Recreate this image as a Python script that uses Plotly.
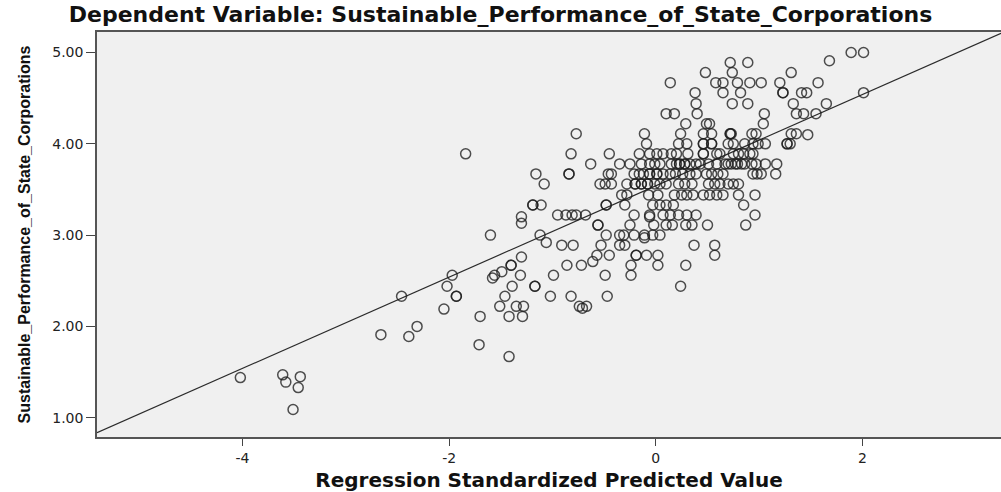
import plotly.graph_objects as go

pred_std = [
    1.89, 2.01,
    1.68,
    0.72, 0.89,
    0.48, 0.74, 1.31,
    0.14, 0.58, 0.65, 0.79, 0.91, 1.02, 1.20, 1.57,
    0.38, 0.65, 0.82, 1.23, 1.23, 1.41, 1.46, 2.01,
    0.39, 0.74, 0.89, 1.33, 1.65,
    0.10, 0.18, 0.40, 1.05, 1.36, 1.43, 1.55,
    0.29, 0.49, 0.52, 1.04,
    -0.77, -0.11, 0.24, 0.46, 0.54, 0.72, 0.72, 0.73, 0.93, 0.97, 1.31, 1.36,
    1.47,
    -0.09, 0.22, 0.30, 0.46, 0.46, 0.54, 0.54, 0.70, 0.75, 0.86, 0.94, 0.99, 1.06, 1.27, 1.27, 1.30,
    -1.84, -0.82, -0.45, -0.16, -0.06, 0.01, 0.07, 0.15, 0.20, 0.31, 0.46, 0.46, 0.59, 0.62, 0.75, 0.80, 0.85, 0.91, 0.94,
    -0.63, -0.35, -0.25, -0.14, -0.06, -0.01, 0.04, 0.15, 0.20, 0.23, 0.23, 0.28, 0.28, 0.33, 0.39, 0.43, 0.51, 0.59, 0.67, 0.70, 0.73, 0.77, 0.79, 0.83, 0.86, 0.93, 0.97, 1.06, 1.17,
    -1.16, -0.84, -0.84, -0.46, -0.43, -0.21, -0.16, -0.12, -0.06, -0.06, 0.01, 0.01, 0.07, 0.14, 0.19, 0.26, 0.33, 0.39, 0.49, 0.54, 0.60, 0.65, 0.94, 0.98, 1.02, 1.16,
    -1.08, -0.54, -0.49, -0.43, -0.28, -0.20, -0.20, -0.14, -0.14, -0.08, -0.08, -0.01, 0.04, 0.10, 0.22, 0.28, 0.35, 0.51, 0.57, 0.62, 0.70, 0.75, 0.80,
    -0.33, -0.28, -0.07, 0.02, 0.18, 0.25, 0.30, 0.36, 0.46, 0.52, 0.59, 0.65, 0.80, 0.96,
    -1.19, -1.19, -1.11, -0.48, -0.48, -0.30, -0.03, 0.04, 0.10, 0.17, 0.85,
    -0.95, -0.87, -0.81, -0.77, -0.68, -0.21, -0.06, 0.07, 0.14, 0.22, 0.30, 0.39, 0.96,
    -1.30, -0.06,
    -1.30,
    -0.56, -0.56, -0.25, -0.02, 0.10, 0.16, 0.29, 0.35, 0.50, 0.87,
    -1.60, -1.12, -0.48, -0.35, -0.31, -0.21, -0.11, -0.03, 0.04,
    -0.11,
    -1.06,
    -0.91, -0.80, -0.53, -0.35, -0.30, 0.37, 0.57,
    -0.57, -0.45, -0.19, -0.19, -0.09, 0.02, 0.57,
    -1.30,
    -0.61,
    -1.40, -1.40, -0.86, -0.72, -0.24, 0.02, 0.29,
    -1.49,
    -1.97, -1.56, -1.31, -0.99, -0.49, -0.24,
    -1.58,
    -2.02, -1.39, -1.17, -1.17, 0.24,
    -2.46, -1.93, -1.93, -1.46, -1.02, -0.82, -0.47,
    -1.51, -1.35, -1.28, -0.74, -0.67,
    -0.71,
    -2.05,
    -1.70, -1.42, -1.29,
    -2.31,
    -2.66,
    -2.39,
    -1.71,
    -1.42,
    -3.61, -3.44, -4.02, -3.58, -3.46, -3.51,
]

performance = [
    5.00, 5.00,
    4.91,
    4.89, 4.89,
    4.78, 4.78, 4.78,
    4.67, 4.67, 4.67, 4.67, 4.67, 4.67, 4.67, 4.67,
    4.56, 4.56, 4.56, 4.56, 4.56, 4.56, 4.56, 4.56,
    4.44, 4.44, 4.44, 4.44, 4.44,
    4.33, 4.33, 4.33, 4.33, 4.33, 4.33, 4.33,
    4.22, 4.22, 4.22, 4.22,
    4.11, 4.11, 4.11, 4.11, 4.11, 4.11, 4.11, 4.11, 4.11, 4.11, 4.11, 4.11,
    4.10,
    4.00, 4.00, 4.00, 4.00, 4.00, 4.00, 4.00, 4.00, 4.00, 4.00, 4.00, 4.00, 4.00, 4.00, 4.00, 4.00,
    3.89, 3.89, 3.89, 3.89, 3.89, 3.89, 3.89, 3.89, 3.89, 3.89, 3.89, 3.89, 3.89, 3.89, 3.89, 3.89, 3.89, 3.89, 3.89,
    3.78, 3.78, 3.78, 3.78, 3.78, 3.78, 3.78, 3.78, 3.78, 3.78, 3.78, 3.78, 3.78, 3.78, 3.78, 3.78, 3.78, 3.78, 3.78, 3.78, 3.78, 3.78, 3.78, 3.78, 3.78, 3.78, 3.78, 3.78, 3.78,
    3.67, 3.67, 3.67, 3.67, 3.67, 3.67, 3.67, 3.67, 3.67, 3.67, 3.67, 3.67, 3.67, 3.67, 3.67, 3.67, 3.67, 3.67, 3.67, 3.67, 3.67, 3.67, 3.67, 3.67, 3.67, 3.67,
    3.56, 3.56, 3.56, 3.56, 3.56, 3.56, 3.56, 3.56, 3.56, 3.56, 3.56, 3.56, 3.56, 3.56, 3.56, 3.56, 3.56, 3.56, 3.56, 3.56, 3.56, 3.56, 3.56,
    3.44, 3.44, 3.44, 3.44, 3.44, 3.44, 3.44, 3.44, 3.44, 3.44, 3.44, 3.44, 3.44, 3.44,
    3.33, 3.33, 3.33, 3.33, 3.33, 3.33, 3.33, 3.33, 3.33, 3.33, 3.33,
    3.22, 3.22, 3.22, 3.22, 3.22, 3.22, 3.22, 3.22, 3.22, 3.22, 3.22, 3.22, 3.22,
    3.20, 3.20,
    3.13,
    3.11, 3.11, 3.11, 3.11, 3.11, 3.11, 3.11, 3.11, 3.11, 3.11,
    3.00, 3.00, 3.00, 3.00, 3.00, 3.00, 3.00, 3.00, 3.00,
    2.97,
    2.92,
    2.89, 2.89, 2.89, 2.89, 2.89, 2.89, 2.89,
    2.78, 2.78, 2.78, 2.78, 2.78, 2.78, 2.78,
    2.76,
    2.71,
    2.67, 2.67, 2.67, 2.67, 2.67, 2.67, 2.67,
    2.60,
    2.56, 2.56, 2.56, 2.56, 2.56, 2.56,
    2.53,
    2.44, 2.44, 2.44, 2.44, 2.44,
    2.33, 2.33, 2.33, 2.33, 2.33, 2.33, 2.33,
    2.22, 2.22, 2.22, 2.22, 2.22,
    2.20,
    2.19,
    2.11, 2.11, 2.11,
    2.00,
    1.91,
    1.89,
    1.80,
    1.67,
    1.47, 1.45, 1.44, 1.39, 1.33, 1.09,
]

assert len(pred_std) == len(performance), (len(pred_std), len(performance))

# Fit line
fit_intercept = 3.54
fit_slope = 0.50

x_range = [-5.407, 3.34]
y_range = [0.789, 5.2245]
x_ticks = [-4, -2, 0, 2]
x_tick_labels = ["-4", "-2", "0", "2"]
y_ticks = [1, 2, 3, 4, 5]
y_tick_labels = ["1.00", "2.00", "3.00", "4.00", "5.00"]

title_text = "Dependent Variable: Sustainable_Performance_of_State_Corporations"
x_title = "Regression Standardized Predicted Value"
y_title = "Sustainable_Performance_of_State_Corporations"

fig = go.Figure()

fig.add_trace(go.Scatter(
    x=x_range,
    y=[fit_intercept + fit_slope * v for v in x_range],
    mode="lines",
    line=dict(color="#2b2b2b", width=1.2),
    hoverinfo="skip",
    showlegend=False,
))

fig.add_trace(go.Scatter(
    x=pred_std,
    y=performance,
    mode="markers",
    marker=dict(symbol="circle-open", size=10,
                line=dict(width=1.5, color="rgba(30,30,30,0.78)"),
                color="rgba(30,30,30,0.78)"),
    showlegend=False,
))

axis_font = dict(family="DejaVu Sans", size=14, color="#222")

fig.update_layout(
    width=1001,
    height=492,
    margin=dict(l=97, r=0, t=32, b=55),
    paper_bgcolor="white",
    plot_bgcolor="#F0F0F0",
    title=dict(text=title_text, x=0.5, xref="container", xanchor="center",
               y=1 - 14 / 492, yref="container", yanchor="middle",
               font=dict(family="DejaVu Sans", size=22, color="#111", weight="bold")),
    xaxis=dict(range=x_range, tickvals=x_ticks, ticktext=x_tick_labels,
               showgrid=False, zeroline=False, showline=True, mirror=True,
               linecolor="#555", linewidth=1.5, ticks="outside", ticklen=7,
               tickcolor="#444", tickfont=axis_font,
               title=dict(text=x_title, standoff=8,
                          font=dict(family="DejaVu Sans", size=20, color="#111", weight="bold")),
               automargin=False),
    yaxis=dict(range=y_range, tickvals=y_ticks, ticktext=y_tick_labels,
               showgrid=False, zeroline=False, showline=True, mirror=True,
               linecolor="#555", linewidth=1.5, ticks="outside", ticklen=9,
               tickcolor="#444", tickfont=axis_font,
               title=dict(text=y_title, standoff=18,
                          font=dict(family="Liberation Sans", size=16, color="#111", weight="bold")),
               automargin=False),
)

fig.write_html("out.html")
